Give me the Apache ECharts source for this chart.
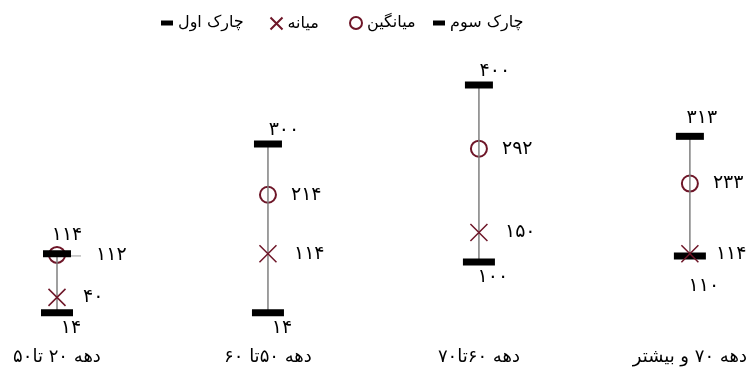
<!DOCTYPE html>
<html>
<head>
<meta charset="utf-8">
<script src="https://cdn.jsdelivr.net/npm/echarts@6/dist/echarts.min.js"></script>
<style>
html,body{margin:0;padding:0;background:#fff;}
#boxChart{width:750px;height:369px;}
</style>
</head>
<body>
<div id="boxChart"></div>
<script>
var categories = ['دهه ۲۰ تا۵۰', 'دهه ۵۰تا ۶۰', 'دهه ۶۰تا۷۰', 'دهه ۷۰ و بیشتر'];
var q1Values = [14, 14, 100, 110];
var q3Values = [114, 300, 400, 313];
var medianValues = [40, 114, 150, 114];
var meanValues = [112, 214, 292, 233];
var seriesNames = ['چارک اول', 'میانه', 'میانگین', 'چارک سوم'];

var maroon = '#6e1628';
var font = 'DejaVu Sans';

// اعداد فارسی
function fa(n) {
    return String(n).replace(/\d/g, function (d) { return '۰۱۲۳۴۵۶۷۸۹'[d]; });
}
function faLabel(p) {
    return fa(p.value);
}

var whiskerData = [];
for (var i = 0; i < categories.length; i++) {
    whiskerData.push([i, q1Values[i], q3Values[i]]);
}

var q1Data = q1Values.map(function (v, i) {
    if (i === 3) return { value: v, label: { offset: [14, 15] } };
    return v;
});
var q3Data = q3Values.map(function (v, i) {
    if (i === 0) return { value: v, label: { offset: [10, -5] } };
    if (i === 3) return { value: v, label: { offset: [12, -4] } };
    return v;
});
var meanData = meanValues.map(function (v, i) {
    if (i === 0) return { value: v, label: { distance: 30 } };
    return v;
});

var crossPath = 'path://M0,0L10,10M10,0L0,10';

function legendAt(left, name, icon, w, h) {
    return {
        left: left,
        top: 10,
        itemWidth: w,
        itemHeight: h,
        itemGap: 0,
        data: [{ name: name, icon: icon }],
        textStyle: { fontFamily: font, fontSize: 16, color: '#000' }
    };
}

var labelStyle = {
    show: true,
    color: '#000',
    fontFamily: font,
    fontSize: 19,
    formatter: faLabel
};

var option = {
    animation: false,
    backgroundColor: '#fff',
    legend: [
        legendAt(156, seriesNames[0], 'rect', 12, 5),
        legendAt(263, seriesNames[1], crossPath, 12, 12),
        legendAt(344, seriesNames[2], 'emptyCircle', 12, 12),
        legendAt(428, seriesNames[3], 'rect', 12, 5)
    ],
    grid: {
        left: 57,
        right: 59,
        top: 85,
        bottom: 48,
        containLabel: false
    },
    xAxis: {
        type: 'category',
        data: categories,
        boundaryGap: false,
        axisLine: { show: false },
        axisTick: { show: false },
        splitLine: { show: false },
        axisLabel: {
            margin: 27,
            color: '#000',
            fontFamily: font,
            fontSize: 18
        }
    },
    yAxis: {
        type: 'value',
        min: 0,
        max: 400,
        show: false
    },
    series: [
        {
            name: seriesNames[2],
            type: 'scatter',
            symbol: 'emptyCircle',
            symbolSize: 16,
            z: 2,
            itemStyle: { color: maroon, borderColor: maroon, borderWidth: 2, opacity: 1 },
            label: Object.assign({}, labelStyle, { position: 'right', distance: 14 }),
            data: meanData
        },
        {
            // خط راهنمای برچسب میانگین اول
            name: 'leader',
            type: 'custom',
            z: 1,
            silent: true,
            renderItem: function (params, api) {
                var p = api.coord([api.value(0), api.value(1)]);
                return {
                    type: 'line',
                    shape: { x1: p[0], y1: p[1] + 1, x2: p[0] + 24, y2: p[1] + 1 },
                    style: { stroke: '#bdbdbd', lineWidth: 1.5 }
                };
            },
            data: [[0, meanValues[0]]]
        },
        {
            name: 'whisker',
            type: 'custom',
            z: 3,
            silent: true,
            renderItem: function (params, api) {
                var p1 = api.coord([api.value(0), api.value(1)]);
                var p2 = api.coord([api.value(0), api.value(2)]);
                return {
                    type: 'line',
                    shape: { x1: p1[0], y1: p1[1], x2: p2[0], y2: p2[1] },
                    style: { stroke: '#7f7f7f', lineWidth: 1.5 }
                };
            },
            encode: { x: 0, y: [1, 2] },
            data: whiskerData
        },
        {
            name: seriesNames[3],
            type: 'scatter',
            symbol: 'rect',
            symbolSize: [28, 7],
            z: 4,
            itemStyle: { color: '#000', opacity: 1 },
            label: Object.assign({}, labelStyle, { position: 'top', distance: 1, offset: [16, 0] }),
            data: q3Data
        },
        {
            name: seriesNames[0],
            type: 'scatter',
            symbol: 'rect',
            symbolSize: [32, 7],
            z: 4,
            itemStyle: { color: '#000', opacity: 1 },
            label: Object.assign({}, labelStyle, { position: 'bottom', distance: 2, offset: [14, 0] }),
            data: q1Data
        },
        {
            name: seriesNames[1],
            type: 'scatter',
            symbol: crossPath,
            symbolSize: 17,
            z: 5,
            itemStyle: { color: 'none', borderColor: maroon, borderWidth: 1.5, opacity: 1 },
            label: Object.assign({}, labelStyle, { position: 'right', distance: 15 }),
            data: medianValues
        }
    ]
};

var boxChart = echarts.init(document.getElementById('boxChart'));
boxChart.setOption(option);
</script>
</body>
</html>
